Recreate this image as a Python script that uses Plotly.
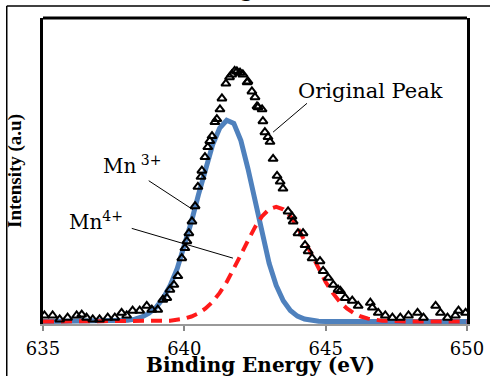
import plotly.graph_objects as go

# Observed XPS data (triangles)
energy_obs = [635.05, 635.34, 635.59, 635.87, 636.19, 636.37, 636.54, 636.76, 637.0, 637.29,
              637.54, 637.78, 637.96, 638.17, 638.42, 638.67, 638.85, 639.06, 639.24, 639.38,
              639.49, 639.63, 639.77, 639.91, 640.02, 640.09, 640.16, 640.27, 640.38, 640.48,
              640.59, 640.62, 640.73, 640.83, 640.90, 640.98, 641.08, 641.15, 641.26, 641.33,
              641.47, 641.60, 641.68, 641.78, 641.86, 641.97, 642.07, 642.22, 642.25, 642.39,
              642.50, 642.57, 642.61, 642.75, 642.78, 642.85, 642.96, 643.03, 643.14, 643.28,
              643.39, 643.49, 643.67, 643.81, 643.85, 644.02, 644.20, 644.27, 644.38, 644.52,
              644.80, 644.91, 645.09, 645.27, 645.44, 645.52, 645.69, 645.94, 646.15, 646.58,
              646.65, 646.86, 647.11, 647.36, 647.64, 647.93, 648.25, 648.46, 648.89, 649.06,
              649.31, 649.59, 649.70, 649.95]
intensity_obs = [2.0, 2.0, 0.7, 1.3, 2.0, 2.3, 1.3, 0.7, 0.7, 1.3,
                 1.3, 2.9, 2.0, 3.6, 3.6, 5.2, 3.9, 3.9, 7.2, 7.8,
                 10.5, 12.1, 15.0, 20.9, 24.2, 26.5, 29.1, 33.0, 38.0, 44.4,
                 47.7, 49.7, 54.2, 57.5, 59.5, 61.1, 65.7, 66.7, 69.9, 73.5,
                 78.4, 80.5, 81.4, 82.6, 82.4, 82.0, 81.4, 78.8, 79.1, 75.8,
                 73.9, 70.9, 70.6, 69.9, 66.0, 62.4, 60.8, 59.2, 53.6, 48.0,
                 46.1, 43.8, 36.3, 34.6, 33.0, 29.1, 29.1, 25.2, 23.2, 20.9,
                 19.9, 16.7, 14.4, 12.1, 10.5, 10.1, 7.8, 6.9, 5.2, 6.2,
                 4.6, 2.9, 2.0, 1.3, 1.3, 2.0, 2.9, 1.3, 5.2, 2.9,
                 1.3, 2.0, 3.6, 2.9]

# Mn3+ fitted component
energy_mn3 = [635.0, 636.0, 637.0, 637.5, 638.0, 638.25, 638.5, 638.75, 639.0, 639.25,
              639.5, 639.75, 640.0, 640.25, 640.5, 640.75, 641.0, 641.25, 641.5, 641.75,
              642.0, 642.25, 642.5, 642.75, 643.0, 643.25, 643.5, 643.75, 644.0, 644.25,
              644.5, 644.75, 645.0, 646.0, 647.0, 648.0, 649.0, 650.0]
intensity_mn3 = [0.0, 0.0, 0.01, 0.09, 0.40, 0.80, 1.52, 2.73, 4.68, 7.64,
                 11.9, 17.5, 24.6, 32.9, 41.8, 50.5, 58.2, 63.7, 66.3, 65.3,
                 59.6, 50.4, 39.5, 28.6, 19.2, 11.9, 6.84, 3.64, 1.79, 0.82,
                 0.34, 0.13, 0.05, 0.0, 0.0, 0.0, 0.0, 0.0]

# Mn4+ fitted component
energy_mn4 = [635.0, 636.0, 637.0, 638.0, 638.5, 639.0, 639.5, 640.0, 640.25, 640.5,
              640.75, 641.0, 641.25, 641.5, 641.75, 642.0, 642.25, 642.5, 642.75, 643.0,
              643.25, 643.5, 643.75, 644.0, 644.25, 644.5, 644.75, 645.0, 645.25, 645.5,
              645.75, 646.0, 646.25, 646.5, 647.0, 647.5, 648.0, 649.0, 650.0]
intensity_mn4 = [0.0, 0.0, 0.0, 0.0, 0.02, 0.07, 0.29, 0.97, 1.66, 2.74,
                 4.32, 6.52, 9.43, 13.05, 17.3, 22.0, 26.7, 31.1, 34.7, 37.0,
                 37.8, 37.0, 34.7, 31.1, 26.7, 22.0, 17.3, 13.05, 9.43, 6.52,
                 4.32, 2.74, 1.66, 0.97, 0.29, 0.07, 0.0, 0.0, 0.0]

x_ticks = [635, 640, 645, 650]

SERIF = "DejaVu Serif"

fig = go.Figure()
fig.add_trace(go.Scatter(x=energy_mn3, y=intensity_mn3, mode="lines", name="Mn3+",
                         line=dict(color="#4F81BD", width=5)))
fig.add_trace(go.Scatter(x=energy_mn4, y=intensity_mn4, mode="lines", name="Mn4+",
                         line=dict(color="#FF1A1A", width=4, dash="11px,7px")))
fig.add_trace(go.Scatter(x=energy_obs, y=intensity_obs, mode="markers", name="Original Peak",
                         marker=dict(symbol="triangle-up-open", size=8, color="black",
                                     line=dict(width=2, color="black"))))

fig.update_layout(
    width=490, height=376,
    margin=dict(l=43, r=23, t=18, b=52),
    paper_bgcolor="white", plot_bgcolor="white",
    showlegend=False,
    xaxis=dict(range=[635, 650], tickvals=x_ticks, ticks="outside", ticklen=5,
               tickcolor="#888888", tickwidth=1.5, showline=True, linecolor="#999999",
               linewidth=1.5, showgrid=False, zeroline=False, automargin=False,
               ticklabelstandoff=3,
               tickfont=dict(family=SERIF, size=18, color="black")),
    yaxis=dict(range=[-0.8, 100], showticklabels=False, ticks="", showgrid=False,
               zeroline=False, showline=True, linecolor="black", linewidth=3, mirror=True,
               automargin=False,
               title=dict(text="<b>Intensity (a.u)</b>", standoff=14,
                          font=dict(family="Liberation Serif", size=19, color="black"))),
)

# x-axis title
fig.add_annotation(xref="paper", yref="paper", x=0.514, y=-0.135, text="<b>Binding Energy (eV)</b>",
                   showarrow=False, xanchor="center", yanchor="middle",
                   font=dict(family=SERIF, size=20, color="black"))

# top border of the plot box and outer frame
fig.add_shape(type="line", xref="paper", yref="paper", x0=0, x1=1, y0=1, y1=1,
              line=dict(color="black", width=3))
fig.add_shape(type="line", xref="paper", yref="paper", x0=-0.0855, x1=-0.0855, y0=1.039, y1=-0.2,
              line=dict(color="black", width=1.5))
fig.add_shape(type="line", xref="paper", yref="paper", x0=-0.0855, x1=1.08, y0=1.039, y1=1.039,
              line=dict(color="black", width=1.5))

# leader lines
fig.add_shape(type="line", x0=644.34, y0=71.9, x1=643.14, y1=62.4, line=dict(color="black", width=1))
fig.add_shape(type="line", x0=638.74, y0=46.4, x1=640.30, y1=36.9, line=dict(color="black", width=1))
fig.add_shape(type="line", x0=638.14, y0=30.7, x1=641.72, y1=20.9, line=dict(color="black", width=1))

fig.add_annotation(x=643.95, y=75.8, text="Original Peak", showarrow=False, xanchor="left",
                   yanchor="middle", font=dict(family=SERIF, size=21, color="black"))
fig.add_annotation(x=637.05, y=51.5, text="Mn<sup> 3+</sup>", showarrow=False, xanchor="left",
                   yanchor="middle", font=dict(family=SERIF, size=20, color="black"))
fig.add_annotation(x=635.85, y=33.0, text="Mn<sup>4+</sup>", showarrow=False, xanchor="left",
                   yanchor="middle", font=dict(family=SERIF, size=20, color="black"))
# cut-off title remnant at very top
fig.add_annotation(xref="paper", yref="paper", x=0.48, y=1.046, text="<b>g</b>", showarrow=False,
                   xanchor="center", yanchor="bottom", font=dict(family=SERIF, size=20, color="black"))

fig.write_html("out.html", config={"displayModeBar": False},
               post_script="document.body.style.margin='0';")
